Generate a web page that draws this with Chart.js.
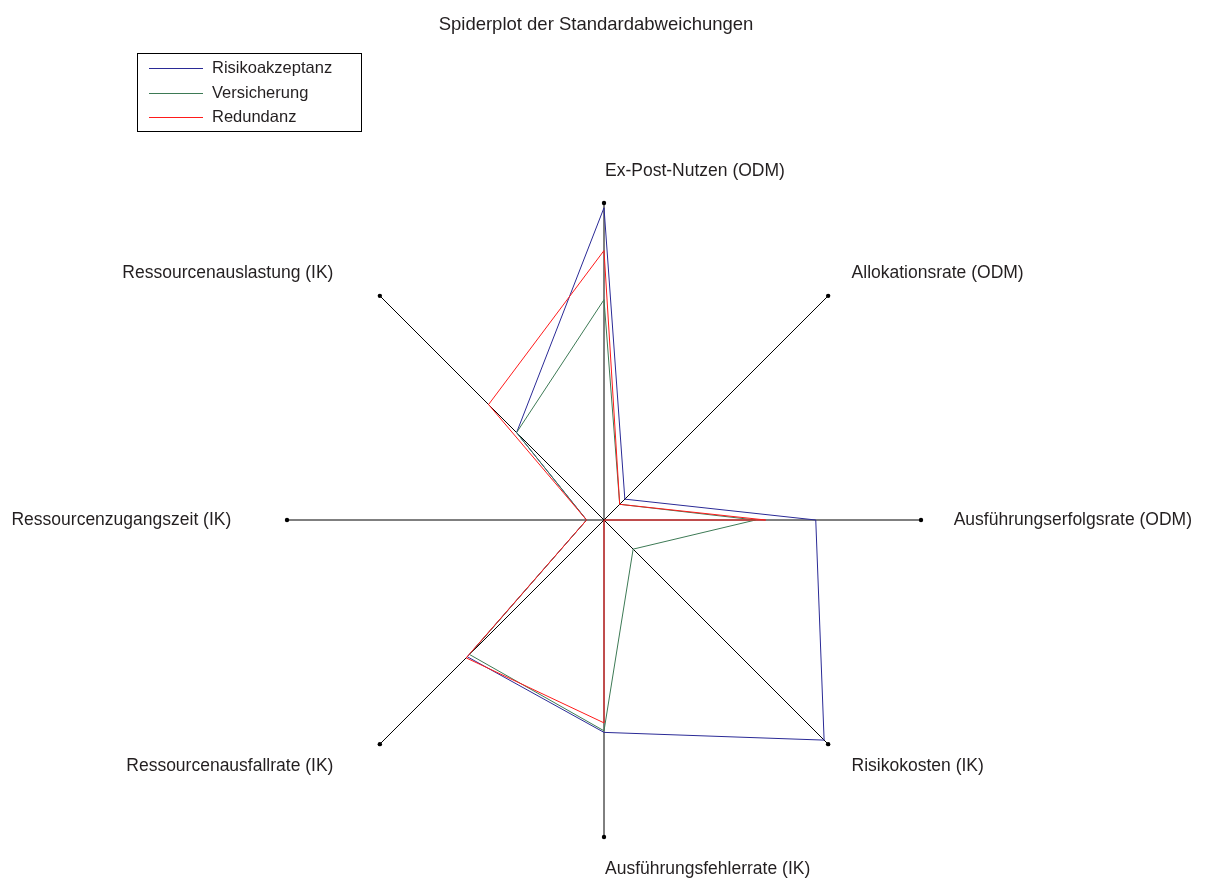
<!DOCTYPE html>
<html>
<head>
<meta charset="utf-8">
<title>Spiderplot der Standardabweichungen</title>
<script src="https://cdn.jsdelivr.net/npm/chart.js@4"></script>
<style>
  html, body { margin: 0; padding: 0; background: #fff; }
  #wrap { width: 1214px; height: 885px; position: relative; }
</style>
</head>
<body>
<div id="wrap"><canvas id="spider"></canvas></div>
<script>
// Spiderplot der Standardabweichungen

// Axis labels (clockwise from top)
const axisLabels = [
    'Ex-Post-Nutzen (ODM)',
    'Allokationsrate (ODM)',
    'Ausführungserfolgsrate (ODM)',
    'Risikokosten (IK)',
    'Ausführungsfehlerrate (IK)',
    'Ressourcenausfallrate (IK)',
    'Ressourcenzugangszeit (IK)',
    'Ressourcenauslastung (IK)'
];

// Series values (normalised, axis end = 1)
const risikoakzeptanz = [0.985, 0.093, 0.668, 0.982, 0.670, 0.610, 0.055, 0.390];
const versicherung    = [0.695, 0.070, 0.478, 0.130, 0.665, 0.600, 0.055, 0.390];
const redundanz       = [0.850, 0.070, 0.510, 0.000, 0.640, 0.615, 0.055, 0.515];

const seriesNames  = ['Risikoakzeptanz', 'Versicherung', 'Redundanz'];
const seriesColors = ['#2a2a96', '#3d7a55', '#ff1a1a'];

const textColor = '#231f20';
const fontFamily = '"Liberation Sans", Arial, sans-serif';

// Labels, axis end dots, title and boxed legend
const spiderDecor = {
    id: 'spiderDecor',
    afterDraw(chart) {
        const ctx = chart.ctx;
        const scale = chart.scales.r;
        ctx.save();

        // dots at the axis ends
        ctx.fillStyle = '#000';
        axisLabels.forEach((_, i) => {
            const p = scale.getPointPosition(i, scale.getDistanceFromCenterForValue(1));
            ctx.beginPath();
            ctx.arc(p.x, p.y, 2.2, 0, Math.PI * 2);
            ctx.fill();
        });

        // axis labels
        ctx.fillStyle = textColor;
        ctx.font = '17.5px ' + fontFamily;
        ctx.textBaseline = 'middle';
        const labelDist = scale.getDistanceFromCenterForValue(1.1);
        axisLabels.forEach((label, i) => {
            const p = scale.getPointPosition(i, labelDist);
            if (p.x < scale.xCenter - 1) {
                ctx.textAlign = 'right';
                ctx.fillText(label, p.x - 24, p.y);
            } else {
                ctx.textAlign = 'left';
                ctx.fillText(label, p.x + 1, p.y);
            }
        });

        // title
        ctx.font = '18.5px ' + fontFamily;
        ctx.textAlign = 'center';
        ctx.fillText('Spiderplot der Standardabweichungen', 596, 25);

        // legend box
        ctx.strokeStyle = '#000';
        ctx.lineWidth = 1;
        ctx.strokeRect(137.5, 53.5, 224, 78);
        ctx.font = '16.5px ' + fontFamily;
        ctx.textAlign = 'left';
        const rowsY = [68, 93, 117];
        seriesNames.forEach((name, i) => {
            ctx.strokeStyle = seriesColors[i];
            ctx.beginPath();
            ctx.moveTo(149, rowsY[i] + 0.5);
            ctx.lineTo(203, rowsY[i] + 0.5);
            ctx.stroke();
            ctx.fillStyle = textColor;
            ctx.fillText(name, 212, rowsY[i]);
        });

        ctx.restore();
    }
};

const seriesData = [risikoakzeptanz, versicherung, redundanz];

const ctx = document.getElementById('spider').getContext('2d');
const spiderChart = new Chart(ctx, {
    type: 'radar',
    data: {
        labels: axisLabels,
        datasets: seriesData.map((values, i) => ({
            label: seriesNames[i],
            data: values,
            borderColor: seriesColors[i],
            borderWidth: 1,
            fill: false,
            pointRadius: 0,
            pointHoverRadius: 0,
            tension: 0,
            order: 3 - i   // red on top
        }))
    },
    options: {
        responsive: true,
        maintainAspectRatio: false,
        animation: false,
        layout: {
            padding: { top: 203, bottom: 48, left: 287, right: 293 }
        },
        plugins: {
            legend: { display: false },
            title: { display: false },
            tooltip: { enabled: false }
        },
        scales: {
            r: {
                min: 0,
                max: 1,
                grid: { display: false },
                angleLines: { display: true, color: '#000', lineWidth: 1 },
                ticks: { display: false },
                pointLabels: { display: false }
            }
        }
    },
    plugins: [spiderDecor]
});
</script>
</body>
</html>
